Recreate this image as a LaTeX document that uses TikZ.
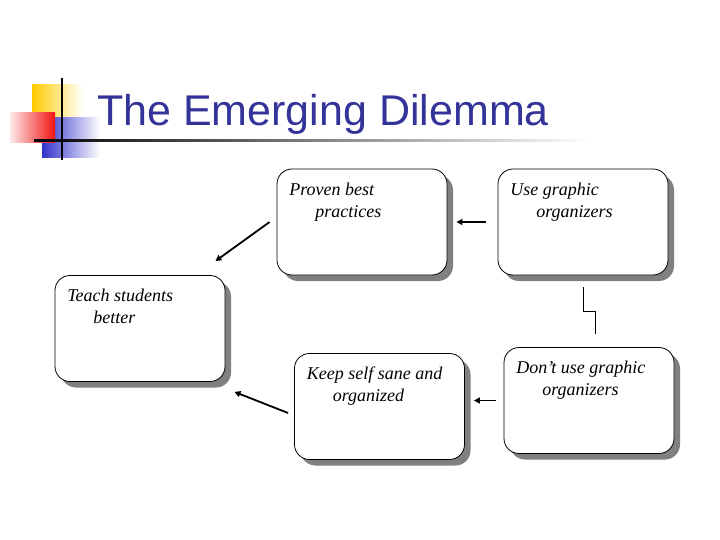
\documentclass[tikz,border=0pt]{standalone}
\usepackage{fontspec}
\setmainfont{Liberation Serif}
\newfontfamily\titlefont{Liberation Sans}
\usetikzlibrary{arrows.meta,positioning,shadows}

\definecolor{navy}{RGB}{51,51,153}
\definecolor{logoyellow}{RGB}{255,204,0}
\definecolor{logoblue}{RGB}{51,51,204}
\definecolor{logored}{RGB}{240,20,20}

\tikzset{
	stepbox/.style={draw, fill=white, rounded corners=15pt, line width=0.8pt,
		minimum width=170pt, minimum height=106pt, inner sep=0pt,
		drop shadow={shadow xshift=6pt, shadow yshift=-6pt, fill=gray, opacity=1}},
	boxtext/.style={anchor=north west, inner sep=0pt, align=left,
		font=\fontsize{18}{22}\selectfont\itshape},
	arr/.style={line width=1.8pt, -{Triangle[length=6pt,width=6pt]}},
}

\begin{document}
\begin{tikzpicture}[x=1pt,y=-1pt]
	\fill[white] (0,0) rectangle (720,540);
	\useasboundingbox (0,0) rectangle (720,540);

	% logo
	\shade[left color=logoyellow, middle color=logoyellow, right color=white] (32,85) rectangle (83,135);
	\shade[left color=logoblue, middle color=logoblue, right color=white] (42,118) rectangle (100,158);
	\shade[left color=logored!10, right color=logored] (10,113) rectangle (55,143);
	\shade[left color=black, right color=white] (34,140) rectangle (590,142);
	\draw[line width=2pt] (62,78) -- (62,160);

	% title
	\node[anchor=base west, inner sep=0pt, text=navy,
		font=\titlefont\fontsize{43}{50}\selectfont] (title) at (97,126) {The Emerging Dilemma};

	% boxes
	\node[stepbox] (proven) at (362,222) {};
	\node[stepbox] (use) at (583,222) {};
	\node[stepbox] (teach) at (140,328.5) {};
	\node[stepbox] (keep) at (379.5,406.5) {};
	\node[stepbox] (dont) at (589,400.5) {};

	\node[boxtext] at ([shift={(12.5,11)}]proven.north west) {\strut Proven best\\\hspace*{26pt}practices};
	\node[boxtext] at ([shift={(12.5,11)}]use.north west) {\strut Use graphic\\\hspace*{26pt}organizers};
	\node[boxtext] at ([shift={(12.5,11)}]teach.north west) {\strut Teach students\\\hspace*{26pt}better};
	\node[boxtext] at ([shift={(12.5,11)}]keep.north west) {\strut Keep self sane and\\\hspace*{26pt}organized};
	\node[boxtext] at ([shift={(12.5,11)}]dont.north west) {\strut Don’t use graphic\\\hspace*{26pt}organizers};

	% connectors
	\draw[arr, shorten <=12pt, shorten >=9pt] (use.west) -- (proven.east);
	\draw[arr] ([shift={(-7,0)}]proven.west) -- ([shift={(-10,-14)}]teach.north east);
	\draw[line width=1pt] ([shift={(0,12)}]use.south) -- ++(0,24) -| ([shift={(6,-13)}]dont.north);
	\draw[arr] ([shift={(-8,0)}]dont.west) -- ([shift={(9,0)}]keep.east |- dont.west);
	\draw[arr] ([shift={(-6,6.5)}]keep.west) -- ([shift={(9,10)}]teach.south east);
\end{tikzpicture}
\end{document}
